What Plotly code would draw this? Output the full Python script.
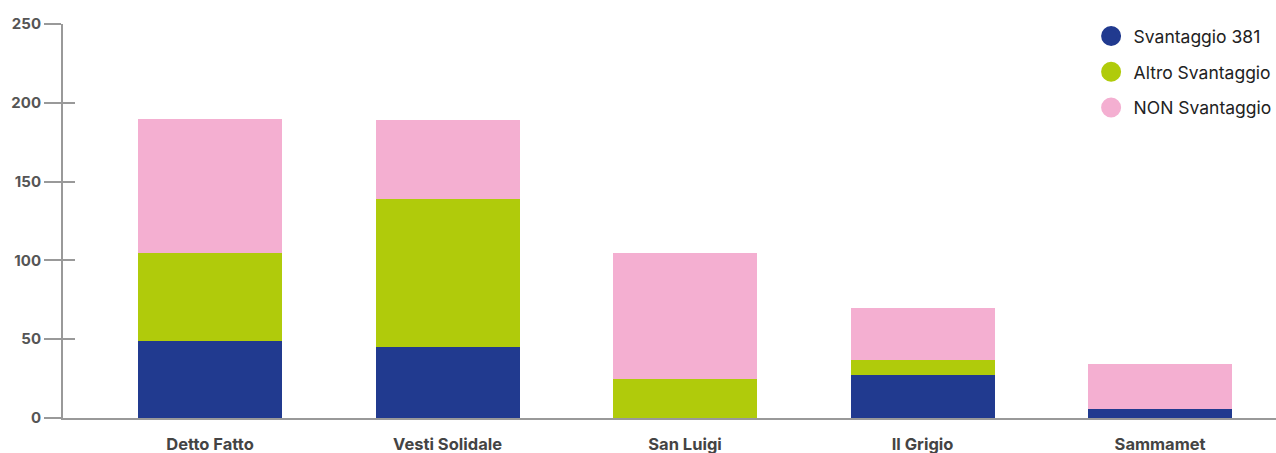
import plotly.graph_objects as go

categories = ["Detto Fatto", "Vesti Solidale", "San Luigi", "Il Grigio", "Sammamet"]
svantaggio_381 = [49, 45, 0, 27, 6]
altro_svantaggio = [56, 94, 25, 10, 0]
non_svantaggio = [85, 50, 80, 33, 28]
y_ticks = [0, 50, 100, 150, 200, 250]

series = [
    ("Svantaggio 381", svantaggio_381, "#213a8f"),
    ("Altro Svantaggio", altro_svantaggio, "#b0cb0b"),
    ("NON Svantaggio", non_svantaggio, "#f4afd1"),
]

fig = go.Figure()
for i, (name, vals, color) in enumerate(series):
    fig.add_trace(go.Bar(
        x=categories, y=vals, name=name, marker=dict(color=color, line=dict(width=0)),
        width=0.606, showlegend=False,
    ))
for i, (name, vals, color) in enumerate(series):
    fig.add_trace(go.Scatter(
        x=[None], y=[None], mode="markers", name=name, legendgroup=name,
        marker=dict(color=color, size=16, line=dict(color=color, width=4)),
    ))

fig.update_layout(
    width=1276, height=453,
    barmode="stack",
    bargap=0,
    plot_bgcolor="white", paper_bgcolor="white",
    margin=dict(l=63, r=0, t=24, b=35, autoexpand=False),
    font=dict(family="Inter, Roboto, sans-serif"),
    legend=dict(
        x=1.0005, y=1.015, xanchor="right", yanchor="top",
        font=dict(size=17.5, color="#222"),
        tracegroupgap=10, bgcolor="rgba(0,0,0,0)",
        itemwidth=35,
    ),
    xaxis=dict(
        type="category", range=[-0.619, 4.488],
        showline=True, linecolor="#999", linewidth=2,
        ticks="", showgrid=False, zeroline=False,
        tickfont=dict(size=16.5, color="#444", weight="bold"),
        ticklabelstandoff=10,
    ),
    yaxis=dict(
        range=[0, 250], tickvals=y_ticks,
        showline=True, linecolor="#999", linewidth=2,
        ticks="outside", ticklen=17, tickwidth=2, tickcolor="#999",
        showgrid=False, zeroline=False,
        tickfont=dict(size=15, color="#555", weight="bold"),
    ),
    yaxis2=dict(
        overlaying="y", side="left", anchor="x",
        range=[0, 250], tickvals=y_ticks,
        showline=False, ticks="inside", ticklen=12, tickwidth=2, tickcolor="#999",
        showticklabels=False, showgrid=False, zeroline=False,
    ),
)
fig.add_trace(go.Scatter(x=[None], y=[None], yaxis="y2", showlegend=False))
fig.write_html("out.html")
